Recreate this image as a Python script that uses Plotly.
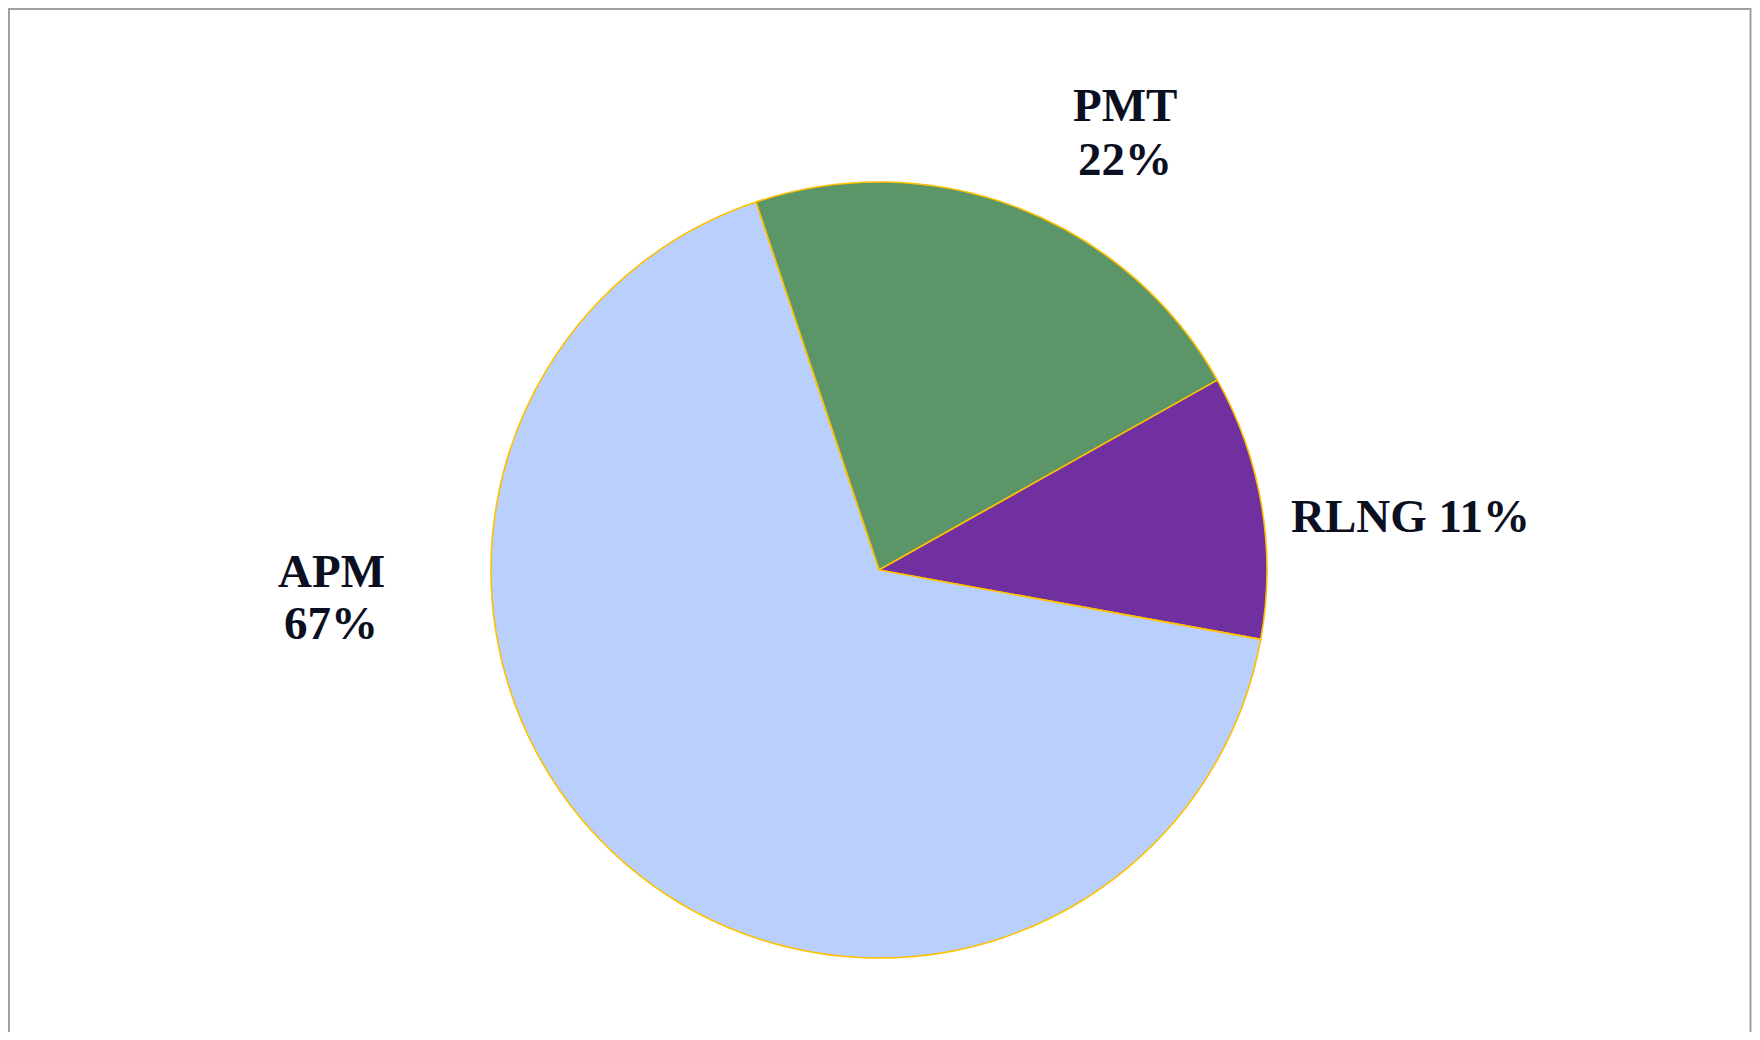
import plotly.graph_objects as go

labels = ["PMT", "RLNG", "APM"]
values = [22, 11, 67]
colors = ["#5B9568", "#7030A0", "#B9CFFC"]

total = sum(values)
pcts = [round(v * 100 / total) for v in values]

W, H = 1744, 1024

fig = go.Figure()
fig.add_trace(go.Pie(
    labels=labels,
    values=values,
    sort=False,
    direction="clockwise",
    rotation=-18.5,
    marker=dict(colors=colors, line=dict(color="#FFC000", width=1.6)),
    textinfo="none",
    hoverinfo="skip",
    showlegend=False,
    domain=dict(x=[(871 - 388) / W, (871 + 388) / W],
                y=[1 - (562 + 388) / H, 1 - (562 - 388) / H]),
))

font = dict(family="Liberation Serif", size=47, color="#0B0F1F")

# (label line px position, percent line px position) in figure pixels
line_pos = {
    "PMT": [(1117, 97), (1117, 151)],
    "RLNG": [(1402, 508)],
    "APM": [(323, 563), (323, 615)],
}
for lab, pct in zip(labels, pcts):
    pos = line_pos[lab]
    if len(pos) == 1:
        texts = [f"<b>{lab} {pct}%</b>"]
    else:
        texts = [f"<b>{lab}</b>", f"<b>{pct}%</b>"]
    for t, (px, py) in zip(texts, pos):
        fig.add_annotation(x=px / W, y=1 - py / H, xref="paper", yref="paper", text=t,
                           showarrow=False, font=font, xanchor="center", yanchor="middle")

fig.add_shape(type="rect", xref="paper", yref="paper",
              x0=1 / W, x1=1742.5 / W, y0=-0.05, y1=1 - 1 / H,
              line=dict(color="#A0A0A0", width=2))

fig.update_layout(
    width=W, height=H,
    margin=dict(l=0, r=0, t=0, b=0),
    paper_bgcolor="white", plot_bgcolor="white",
)
fig.write_html("out.html")
